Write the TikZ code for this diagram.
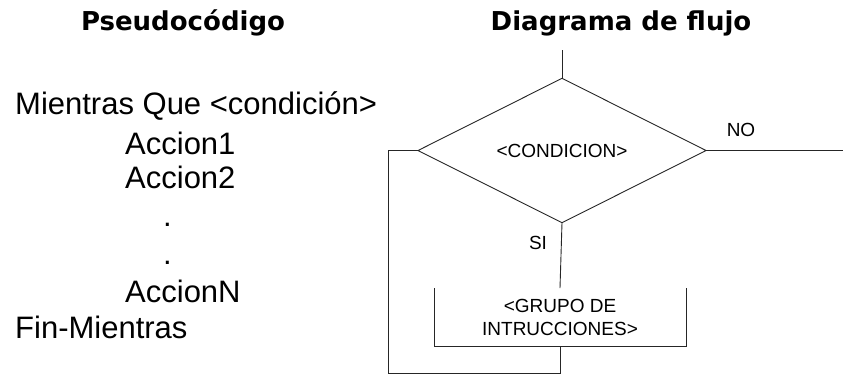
\documentclass[tikz,border=0pt]{standalone}
\usepackage{fontspec}
\setmainfont{Liberation Sans}
\newfontfamily\titlefont{DejaVu Sans}
\usetikzlibrary{shapes.geometric}

\begin{document}
\begin{tikzpicture}[x=1pt,y=-1pt,
  titulo/.style={anchor=base, font=\titlefont\bfseries\fontsize{26}{31}\selectfont},
  pseudo/.style={anchor=base west, inner sep=0pt, font=\fontsize{31}{37}\selectfont},
  etiqueta/.style={font=\fontsize{19}{23}\selectfont, inner sep=0pt},
  linea/.style={draw=black!85, line width=0.9pt}]
\useasboundingbox (0,0) rectangle (843,376);
% titulos
\node [titulo] (tpseudo) at (183,30) {Pseudocódigo};
\node [titulo] (tflujo) at (621,30) {Diagrama de flujo};
% pseudocodigo
\node [pseudo] (mientras) at (15,114) {Mientras Que <condición>};
\node [pseudo] (accion1) at (125,154) {Accion1};
\node [pseudo] (accion2) at (125,188) {Accion2};
\node [pseudo] (punto1) at (163,226) {.};
\node [pseudo] (punto2) at (163,264) {.};
\node [pseudo] (accionN) at (125,302) {AccionN};
\node [pseudo] (finmientras) at (15,338) {Fin-Mientras};
% diagrama de flujo
\node [diamond, linea, etiqueta, outer sep=0pt, minimum width=288pt, minimum height=124pt] (cond) at (562,150.5) {<CONDICION>};
\node [etiqueta, minimum width=252pt, minimum height=58pt, align=center, outer sep=0pt] (grupo) at (560,317) {<GRUPO DE\\INTRUCCIONES>};
\draw [linea] (grupo.north west) -- (grupo.south west) -- (grupo.south east) -- (grupo.north east);
\coordinate (entrada) at (562,50);
\coordinate (salida) at (843,150.5);
\coordinate (retorno) at (388,373);
\draw [linea] (entrada) -- (cond.north);
\draw [linea] (cond.east) -- (salida);
\draw [linea] (cond.south) -- (grupo.north);
\draw [linea] (grupo.south) |- (retorno) |- (cond.west);
\node [etiqueta] (no) at (741,130) {NO};
\node [etiqueta] (si) at (538,243) {SI};
\end{tikzpicture}
\end{document}
